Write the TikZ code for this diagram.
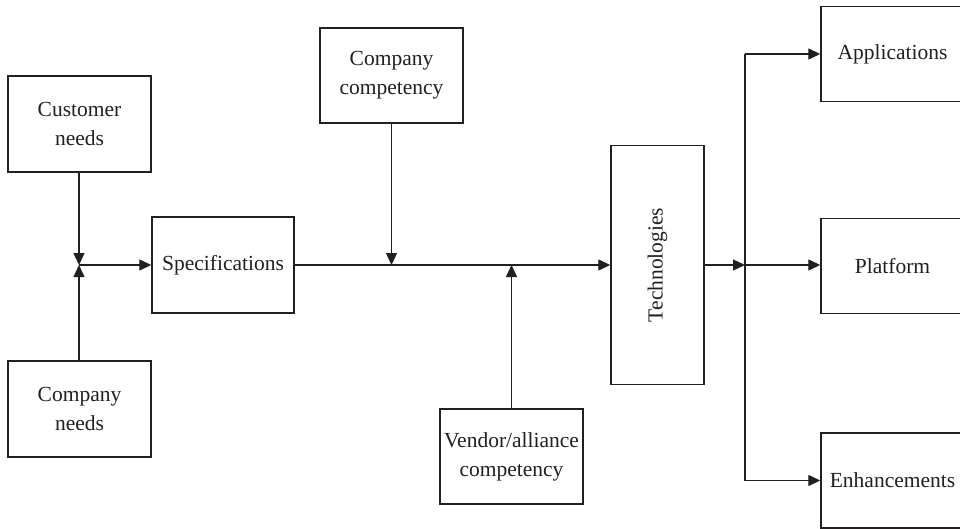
\documentclass[tikz,border=0pt]{standalone}
\usepackage{fontspec}
\setmainfont{Liberation Serif}
\usetikzlibrary{arrows.meta}
\definecolor{ink}{HTML}{231F20}
\tikzset{
  box/.style={draw=ink, line width=1.4pt, fill=white, align=center, text=ink,
    font=\fontsize{21.5}{29}\selectfont, inner sep=0pt},
  link/.style={draw=ink, line width=1.3pt},
  arr/.style={link, -{Triangle[length=12pt,width=11pt]}},
}
\begin{document}
\begin{tikzpicture}[x=1pt,y=-1pt]
\clip (0,0) rectangle (960,529);
\fill[white] (0,0) rectangle (960,529);

% input boxes
\node[box, minimum width=143pt, minimum height=96pt] (cust) at (79.5,124) {Customer\\needs};
\node[box, minimum width=143pt, minimum height=96pt] (cneed) at (79.5,409) {Company\\needs};
\node[box, minimum width=142pt, minimum height=96pt] (spec) at (223,265) {Specifications};
\node[box, minimum width=143pt, minimum height=95pt] (ccomp) at (391.5,75.5) {Company\\competency};
\node[box, minimum width=143pt, minimum height=95pt] (vend) at (511.5,456.5) {Vendor/alliance\\competency};
\node[box, rotate=90, minimum width=239pt, minimum height=93pt] (tech) at (657.5,265) {Technologies};

% output boxes, running off the right edge
\node[box, minimum width=143pt, minimum height=95pt] (app) at (892.5,54) {Applications};
\node[box, minimum width=143pt, minimum height=95pt] (plat) at (892.5,266) {Platform};
\node[box, minimum width=143pt, minimum height=95pt] (enh) at (892.5,480.5) {Enhancements};

% junction points
\coordinate (j1) at (79,265);
\coordinate (j2) at (745,265);

% needs merge into specifications
\draw[arr] (cust.south -| j1) -- (j1);
\draw[arr] (cneed.north -| j1) -- (j1);
\draw[arr] (j1) -- (spec.west);

% specifications to technologies, with competencies joining
\draw[arr] (spec.east) -- (tech.north);
\draw[arr] (ccomp.south) -- (ccomp.south |- spec.east);
\draw[arr] (vend.north) -- (vend.north |- spec.east);

% technologies fan out
\draw[arr] (tech.south) -- (j2);
\draw[link] (j2 |- app.west) -- (j2 |- enh.west);
\draw[arr] (j2 |- app.west) -- (app.west);
\draw[arr] (j2) -- (j2 -| plat.west);
\draw[arr] (j2 |- enh.west) -- (enh.west);
\end{tikzpicture}
\end{document}
